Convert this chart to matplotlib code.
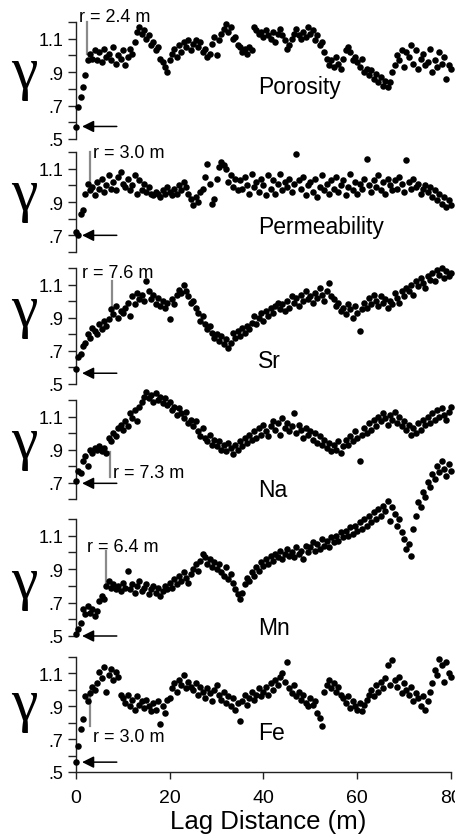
import numpy as np
import matplotlib
matplotlib.use("Agg")
import matplotlib.pyplot as plt

plt.rcParams['font.family'] = ['Liberation Sans', 'DejaVu Sans']

# ---------------- data (semivariance gamma vs lag, lag 0..80 m) ----------------
panel_names = ['Porosity', 'Permeability', 'Sr', 'Na', 'Mn', 'Fe']
ranges_m = [2.4, 3.0, 7.6, 7.3, 6.4, 3.0]
nuggets = [0.575, 0.70, 0.565, 0.695, 0.50, 0.56]
x_ticks = [0, 20, 40, 60, 80]

porosity = [
    0.57, 0.69, 0.75, 0.81, 0.88, 0.97, 1.01, 0.98, 1.03, 0.97,
    1.02, 0.96, 1.04, 0.99, 1.01, 0.97, 1.05, 0.95, 1.00, 0.98,
    1.03, 0.94, 0.99, 1.04, 1.01, 1.08, 1.14, 1.17, 1.13, 1.15,
    1.10, 1.12, 1.06, 1.08, 1.03, 1.05, 0.98, 0.96, 0.93, 0.90,
    0.97, 1.01, 1.04, 0.99, 1.06, 1.02, 1.08, 1.05, 1.09, 1.03,
    1.07, 1.09, 1.05, 1.08, 1.02, 1.04, 0.99, 1.01, 1.07, 1.11,
    1.00, 1.09, 1.13, 1.16, 1.19, 1.14, 1.17, 1.10, 1.11, 1.06,
    1.05, 1.02, 1.04, 1.01, 1.05, 1.03, 1.17, 1.15, 1.13, 1.14,
    1.11, 1.15, 1.12, 1.10, 1.14, 1.08, 1.13, 1.16, 1.12, 1.09,
    1.04, 1.06, 1.10, 1.13, 1.16, 1.12, 1.10, 1.14, 1.11, 1.17,
    1.13, 1.15, 1.09, 1.12, 1.06, 1.08, 1.02, 0.98, 0.94, 0.97,
    0.93, 0.99, 0.95, 0.92, 0.98, 1.03, 1.05, 1.02, 0.97, 0.99,
    0.96, 0.93, 0.98, 0.90, 0.92, 0.88, 0.91, 0.86, 0.89, 0.84,
    0.87, 0.82, 0.85, 0.81, 0.84, 0.90, 0.94, 1.00, 0.97, 1.03,
    0.93, 1.02, 0.99, 1.06, 0.95, 1.03, 0.92, 0.98, 1.01, 0.94,
    0.96, 1.04, 0.90, 0.97, 0.93, 1.02, 0.95, 0.99, 0.86, 0.94, 0.92]

permeability = [
    0.72, 0.70, 0.83, 0.85, 0.95, 1.01, 0.97, 0.99, 0.94, 1.02,
    0.98, 1.04, 0.96, 1.00, 1.06, 0.98, 1.02, 0.97, 1.05, 1.08,
    1.01, 0.99, 1.04, 0.97, 1.00, 1.06, 0.95, 1.03, 0.97, 1.01,
    0.96, 0.99, 0.95, 0.94, 0.96, 0.95, 0.93, 0.97, 0.95, 0.99,
    0.96, 0.94, 0.98, 0.95, 1.00, 0.97, 1.02, 0.99, 0.95, 0.92,
    0.88, 0.93, 0.90, 0.96, 0.98, 1.05, 1.13, 1.01, 0.89, 0.92,
    1.04, 1.11, 1.14, 1.12, 1.10, 1.02, 1.06, 0.99, 1.04, 0.97,
    1.03, 0.98, 1.05, 1.00, 0.95, 1.07, 0.99, 1.02, 0.96, 1.04,
    1.00, 0.94, 1.06, 0.98, 1.03, 0.95, 1.01, 1.07, 0.97, 1.02,
    0.99, 1.04, 0.96, 1.01, 1.19, 1.03, 0.98, 1.05, 0.94, 1.00,
    1.02, 0.96, 1.04, 0.93, 0.99, 1.06, 0.97, 1.01, 0.95, 1.03,
    0.98, 1.05, 0.96, 1.00, 1.03, 0.94, 0.99, 1.07, 0.97, 1.02,
    0.95, 1.01, 0.98, 1.04, 1.16, 1.00, 0.96, 1.03, 0.99, 1.06,
    0.97, 1.02, 0.95, 1.04, 1.00, 0.97, 1.03, 0.98, 1.05, 1.01,
    0.96, 1.15, 1.02, 0.98, 1.04, 0.99, 1.01, 0.95, 0.98, 1.00,
    0.96, 0.99, 0.93, 0.97, 0.91, 0.95, 0.89, 0.93, 0.87, 0.91, 0.88]

sr = [
    0.59, 0.66, 0.68, 0.73, 0.75, 0.80, 0.78, 0.84, 0.82, 0.80,
    0.86, 0.83, 0.88, 0.85, 0.89, 0.95, 0.92, 0.97, 0.90, 0.94,
    0.93, 0.96, 0.99, 0.91, 1.03, 0.98, 1.05, 1.01, 1.04, 1.00,
    1.12, 1.06, 1.01, 1.04, 0.98, 1.02, 0.97, 1.00, 0.96, 0.99,
    0.89, 1.01, 0.98, 1.04, 1.07, 1.05, 1.10, 1.06, 1.03, 0.99,
    1.00, 0.96, 0.93, 0.88, 0.91, 0.86, 0.83, 0.85, 0.81, 0.78,
    0.80, 0.76, 0.79, 0.74, 0.77, 0.72, 0.75, 0.81, 0.78, 0.82,
    0.79, 0.84, 0.81, 0.85, 0.83, 0.87, 0.91, 0.86, 0.90, 0.93,
    0.88, 0.94, 0.91, 0.96, 0.93, 0.97, 0.99, 0.95, 0.98, 0.94,
    1.00, 0.96, 1.03, 0.99, 1.02, 0.97, 1.04, 1.00, 1.06, 1.01,
    1.03, 0.99, 1.05, 1.02, 1.08, 1.04, 1.00, 1.06, 1.11, 1.03,
    1.01, 0.97, 0.99, 0.94, 0.96, 0.92, 0.98, 0.95, 0.90, 0.97,
    0.93, 0.82, 0.95, 0.99, 0.96, 1.02, 0.98, 1.04, 1.00, 0.97,
    1.03, 0.99, 1.01, 0.96, 1.00, 0.98, 1.05, 1.02, 0.99, 1.06,
    1.03, 1.08, 1.06, 1.10, 1.04, 1.12, 1.09, 1.14, 1.11, 1.08,
    1.15, 1.13, 1.17, 1.12, 1.19, 1.16, 1.20, 1.14, 1.18, 1.15, 1.17]

na = [
    0.71, 0.77, 0.76, 0.83, 0.86, 0.80, 0.90, 0.88, 0.91, 0.90,
    0.92, 0.89, 0.91, 0.88, 0.97, 0.95, 1.00, 0.98, 1.03, 1.05,
    1.02, 1.07, 1.04, 1.12, 1.09, 1.14, 1.07, 1.16, 1.19, 1.22,
    1.25, 1.21, 1.23, 1.19, 1.24, 1.20, 1.22, 1.18, 1.21, 1.17,
    1.19, 1.14, 1.16, 1.11, 1.15, 1.12, 1.09, 1.13, 1.06, 1.08,
    1.04, 1.07, 1.01, 0.98, 1.03, 0.97, 0.95, 0.99, 0.93, 0.96,
    0.92, 0.95, 0.90, 0.93, 0.89, 0.94, 0.91, 0.87, 0.93, 0.90,
    0.95, 0.92, 0.97, 0.94, 0.99, 0.96, 1.01, 0.97, 1.03, 0.99,
    1.05, 1.01, 0.98, 1.04, 1.07, 1.02, 1.06, 0.99, 1.09, 1.03,
    1.06, 1.01, 1.04, 1.12, 1.00, 1.05, 1.02, 0.97, 1.03, 0.99,
    1.01, 0.96, 1.00, 0.94, 0.98, 0.93, 0.96, 0.91, 0.94, 0.89,
    0.93, 0.90, 0.95, 0.88, 0.92, 0.96, 0.93, 0.98, 0.95, 1.01,
    0.97, 0.83, 0.99, 1.03, 1.00, 1.06, 1.02, 1.08, 1.04, 1.10,
    1.07, 1.12, 1.09, 1.05, 1.11, 1.08, 1.13, 1.06, 1.10, 1.04,
    1.07, 1.02, 1.05, 0.99, 1.03, 1.00, 1.06, 1.02, 1.08, 1.05,
    1.10, 1.06, 1.12, 1.08, 1.14, 1.10, 1.15, 1.11, 1.08, 1.13, 1.16]

mn = [
    0.51, 0.54, 0.58, 0.66, 0.63, 0.68, 0.64, 0.66, 0.62, 0.65,
    0.71, 0.74, 0.72, 0.80, 0.83, 0.79, 0.81, 0.78, 0.80, 0.77,
    0.82, 0.79, 0.89, 0.78, 0.81, 0.76, 0.80, 0.83, 0.77, 0.79,
    0.81, 0.75, 0.78, 0.80, 0.76, 0.79, 0.74, 0.77, 0.80, 0.78,
    0.82, 0.79, 0.84, 0.81, 0.86, 0.83, 0.88, 0.85, 0.82, 0.87,
    0.90, 0.93, 0.89, 0.95, 0.99, 0.97, 0.93, 0.96, 0.91, 0.94,
    0.90, 0.93, 0.88, 0.86, 0.91, 0.84, 0.87, 0.82, 0.78, 0.75,
    0.72, 0.76, 0.81, 0.85, 0.83, 0.88, 0.86, 0.91, 0.89, 0.94,
    0.92, 0.96, 0.93, 0.98, 0.95, 0.99, 0.97, 1.01, 0.96, 0.99,
    1.02, 0.98, 1.00, 0.97, 1.03, 0.99, 1.01, 0.96, 1.04, 1.00,
    1.03, 1.06, 1.01, 1.05, 1.02, 1.08, 1.04, 1.07, 1.03, 1.09,
    1.06, 1.10, 1.07, 1.12, 1.09, 1.13, 1.10, 1.15, 1.11, 1.16,
    1.13, 1.18, 1.14, 1.20, 1.16, 1.22, 1.18, 1.24, 1.20, 1.26,
    1.22, 1.28, 1.25, 1.31, 1.19, 1.27, 1.23, 1.16, 1.20, 1.12,
    1.08, 1.02, 1.05, 0.98, 1.14, 1.22, 1.30, 1.27, 1.36, 1.33,
    1.42, 1.39, 1.47, 1.44, 1.52, 1.48, 1.55, 1.50, 1.46, 1.53, 1.49]

fe = [
    0.56, 0.66, 0.76, 0.82, 0.96, 0.93, 0.98, 1.02, 1.00, 1.04,
    1.11, 1.07, 1.14, 0.99, 1.09, 1.13, 1.06, 1.11, 1.08, 0.97,
    0.95, 0.92, 0.97, 0.90, 0.94, 0.88, 0.96, 0.91, 0.93, 0.89,
    0.94, 0.90, 0.87, 0.92, 0.88, 0.93, 0.79, 0.90, 0.86, 0.94,
    0.95, 1.01, 1.04, 0.99, 1.06, 1.03, 1.09, 1.01, 1.05, 1.02,
    1.00, 1.04, 0.97, 1.02, 0.99, 0.95, 1.01, 0.98, 0.93, 1.00,
    1.03, 0.97, 0.94, 0.99, 0.92, 0.96, 0.90, 0.95, 0.88, 0.92,
    0.81, 0.93, 0.97, 0.91, 0.95, 0.99, 0.94, 0.97, 1.01, 0.96,
    0.99, 1.02, 0.97, 1.04, 1.00, 1.06, 1.03, 1.08, 1.10, 1.05,
    1.17, 1.01, 0.98, 1.03, 0.96, 0.99, 0.94, 0.97, 0.92, 0.90,
    0.95, 0.91, 0.93, 0.86, 0.83, 0.78, 0.99, 1.03, 1.06, 1.01,
    1.04, 0.99, 1.02, 0.97, 0.95, 0.92, 0.96, 0.89, 0.93, 0.90,
    0.88, 0.92, 0.87, 0.91, 0.94, 0.97, 1.00, 0.96, 1.03, 0.99,
    1.05, 1.01, 1.07, 1.15, 1.03, 1.18, 1.06, 1.02, 1.08, 0.98,
    1.04, 1.00, 0.97, 1.02, 0.93, 0.98, 0.95, 0.90, 0.96, 0.88,
    0.93, 0.99, 1.04, 1.12, 1.09, 1.19, 1.15, 1.05, 1.17, 1.10, 1.08]

series = [porosity, permeability, sr, na, mn, fe]

# ---------------- layout ----------------
W, H = 456, 837
fig = plt.figure(figsize=(W / 100, H / 100), dpi=100)
left_px, right_px = 76, 451
panel_px = [(23, 140), (153, 253), (269, 385), (401, 500), (520, 637), (658, 773)]
y_low = [0.5, 0.6, 0.5, 0.6, 0.5, 0.5]
label_y = [0.775, 0.714, 0.603, 0.618, 0.512, 0.700]
r_text_xy = [(0.64, 1.206), (3.6, 1.17), (1.3, 1.146), (7.9, 0.733), (2.35, 1.009), (3.6, 0.689)]
r_line_y = [(1.2, 1.009), (1.2, 1.008), (1.122, 0.910), (0.885, 0.733), (1.009, 0.811), (0.993, 0.78)]
gamma_base_px = [88, 210, 326, 458, 598, 720]

for i, vals in enumerate(series):
    top, bot = panel_px[i]
    ax = fig.add_axes([left_px / W, 1 - bot / H, (right_px - left_px) / W, (bot - top) / H])
    ax.patch.set_alpha(0)
    ax.set_xlim(0, 80)
    ax.set_ylim(y_low[i], 1.2)
    for s in ['top', 'right']:
        ax.spines[s].set_visible(False)
    for s in ['left', 'bottom']:
        ax.spines[s].set_linewidth(1.0)
        ax.spines[s].set_color('#222222')
    majors = [v for v in [0.5, 0.7, 0.9, 1.1] if v >= y_low[i] - 1e-9]
    minors = [v for v in [0.6, 0.8, 1.0, 1.2] if v >= y_low[i] - 1e-9]
    ax.set_yticks(majors)
    ax.set_yticklabels([f"{v:.1f}".lstrip('0') for v in majors])
    ax.set_yticks(minors, minor=True)
    ax.tick_params(axis='y', which='both', direction='out', length=6, width=1.0,
                   color='#222222', labelsize=13, pad=3)
    if i < 5:
        ax.spines['bottom'].set_visible(False)
        ax.tick_params(axis='x', which='both', bottom=False, labelbottom=False)
    else:
        ax.set_xticks(x_ticks)
        ax.set_xticklabels([str(t) for t in x_ticks])
        ax.tick_params(axis='x', direction='out', length=5, width=1.0,
                       color='#222222', labelsize=14, pad=7)
        ax.set_xlabel('Lag Distance (m)', fontsize=18.5)
        ax.xaxis.set_label_coords(0.512, -0.32)
        ax.xaxis.label.set_va('top')

    lag = np.linspace(0, 80, len(vals))
    ax.scatter(lag, vals, s=22, c='black', linewidths=0, clip_on=False, zorder=3)

    # range marker
    r = ranges_m[i]
    ax.plot([r, r], list(r_line_y[i]), color='#8a8a8a', lw=1.6, clip_on=False, zorder=2)
    ax.text(r_text_xy[i][0], r_text_xy[i][1], f"r = {r:.1f} m", fontsize=13,
            ha='left', va='baseline')

    # nugget arrow
    ax.annotate('', xy=(1.3, nuggets[i]), xytext=(8.7, nuggets[i]),
                arrowprops=dict(arrowstyle='-|>,head_length=0.5,head_width=0.25',
                                mutation_scale=14, lw=1.1, color='black',
                                shrinkA=0, shrinkB=0),
                annotation_clip=False)

    # panel label
    ax.text(38.8, label_y[i], panel_names[i], fontsize=16.5, ha='left', va='baseline')

    # gamma label
    fig.text(24 / W, 1 - gamma_base_px[i] / H, '\u03b3', fontsize=43,
             family=['Liberation Serif', 'DejaVu Serif'], ha='center', va='baseline')

fig.savefig('out.png', dpi=100)
